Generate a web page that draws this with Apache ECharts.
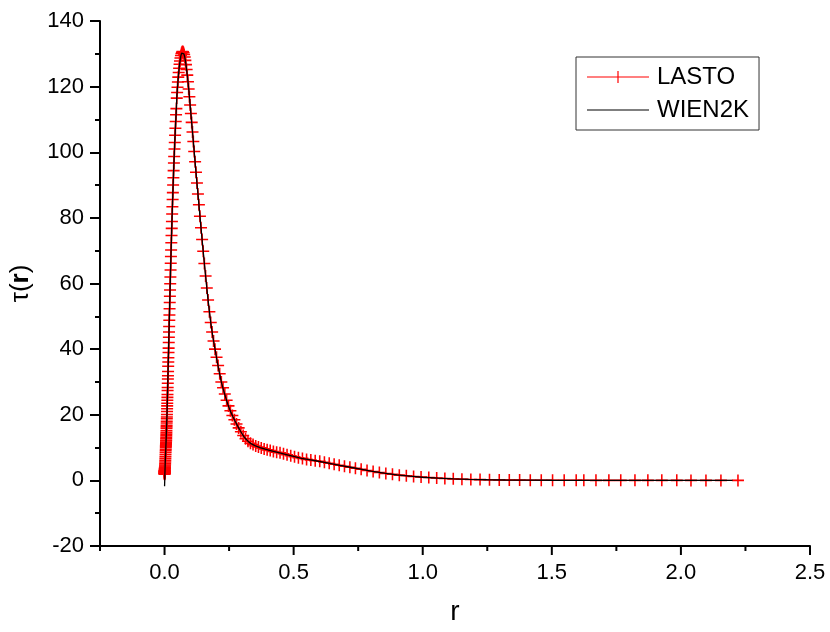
<!DOCTYPE html>
<html>
<head>
<meta charset="utf-8">
<script src="https://cdn.jsdelivr.net/npm/echarts@6/dist/echarts.min.js"></script>
<style>
  html, body {margin: 0; padding: 0; background: #fff;}
  #main {width: 830px; height: 632px;}
</style>
</head>
<body>
<div id="main"></div>
<script>
// LASTO radial mesh and tau(r) values
const lastoR = [
  0.00002, 0.00004, 0.00006, 0.00008, 0.0001, 0.00013, 0.00016, 0.0002, 0.00025, 0.0003, 0.0004, 0.0005,
  0.0006, 0.0008, 0.0010, 0.0012, 0.0014, 0.0016, 0.0018, 0.0020, 0.0023, 0.0026, 0.0029, 0.0032,
  0.0035, 0.0038, 0.0041, 0.0044, 0.0047,
  0.0050, 0.0052, 0.0053, 0.0055, 0.0056, 0.0058, 0.0060, 0.0061, 0.0063, 0.0065, 0.0067, 0.0069,
  0.0071, 0.0073, 0.0076, 0.0078, 0.0080, 0.0083, 0.0085, 0.0088, 0.0090, 0.0093, 0.0096, 0.0099,
  0.0102, 0.0105, 0.0108, 0.0111, 0.0114, 0.0118, 0.0121, 0.0125, 0.0129, 0.0132, 0.0136, 0.0141,
  0.0145, 0.0149, 0.0154, 0.0158, 0.0163, 0.0168, 0.0173, 0.0178, 0.0184, 0.0189, 0.0195, 0.0201,
  0.0207, 0.0213, 0.0219, 0.0226, 0.0233, 0.0240, 0.0247, 0.0254, 0.0262, 0.0270, 0.0278, 0.0286,
  0.0295, 0.0304, 0.0313, 0.0322, 0.0332, 0.0342, 0.0352, 0.0363, 0.0373, 0.0385, 0.0396, 0.0408,
  0.0420, 0.0433, 0.0446, 0.0459, 0.0473, 0.0487, 0.0502, 0.0517, 0.0532, 0.0548, 0.0565, 0.0582,
  0.0599, 0.0617, 0.0636, 0.0655, 0.0675, 0.0695, 0.0716, 0.0737, 0.0759, 0.0782, 0.0806, 0.0830,
  0.0855, 0.0880, 0.0907, 0.0934, 0.0962, 0.0991, 0.1020, 0.1051, 0.1083, 0.1115, 0.1149, 0.1183,
  0.1218, 0.1255, 0.1293, 0.1331, 0.1371, 0.1412, 0.1455, 0.1498, 0.1543, 0.1590, 0.1637, 0.1686,
  0.1737, 0.1789, 0.1843, 0.1898, 0.1955, 0.2014, 0.2074, 0.2136, 0.2200, 0.2266, 0.2334, 0.2404,
  0.2477, 0.2551, 0.2627, 0.2706, 0.2787, 0.2871, 0.2957, 0.3046, 0.3137, 0.3231, 0.3328, 0.3428,
  0.3531, 0.3637, 0.3746, 0.3858, 0.3974, 0.4093, 0.4216, 0.4342, 0.4473, 0.4607, 0.4745, 0.4888,
  0.5034, 0.5185, 0.5341, 0.5501, 0.5666, 0.5836, 0.6011, 0.6192, 0.6378, 0.6569, 0.6766, 0.6969,
  0.7178, 0.7393, 0.7615, 0.7843, 0.8079, 0.8321, 0.8571, 0.8828, 0.9093, 0.9365, 0.9646, 0.9936,
  1.0234, 1.0541, 1.0857, 1.1183, 1.1518, 1.1864, 1.2220, 1.2586, 1.2964, 1.3353, 1.3753, 1.4166,
  1.4591, 1.5029, 1.5479, 1.5944, 1.6240, 1.6710, 1.7210, 1.7670, 1.8220, 1.8720, 1.9260, 1.9840,
  2.0390, 2.0970, 2.1550, 2.2210
];
const lastoTau = [
  1.9, 2.0, 2.1, 2.2, 2.3, 2.4, 2.5, 2.6, 2.7, 2.8, 2.9, 3.0,
  3.1, 3.3, 3.5, 3.7, 3.9, 4.1, 4.4, 4.7, 5.1, 5.6, 6.1, 6.7,
  7.3, 7.9, 8.5, 9.0, 9.5,
  10.0, 10.4, 10.6, 11.0, 11.2, 11.6, 12.0, 12.2, 12.7, 13.1, 13.6, 14.1,
  14.6, 15.1, 15.8, 16.3, 16.8, 17.5, 18.0, 18.8, 19.3, 20.1, 21.0, 21.8,
  22.7, 23.5, 24.4, 25.3, 26.2, 27.4, 28.3, 29.6, 30.9, 31.9, 33.2, 34.8,
  36.1, 37.4, 39.0, 40.3, 42.0, 43.6, 45.2, 46.9, 48.8, 50.4, 52.3, 54.2,
  56.1, 58.0, 59.9, 62.0, 64.1, 66.2, 68.2, 70.2, 72.4, 74.6, 76.8, 78.9,
  81.2, 83.4, 85.6, 87.7, 90.0, 92.2, 94.4, 96.7, 98.7, 101.0, 103.0, 105.2,
  107.3, 109.4, 111.4, 113.3, 116.5, 118.2, 119.8, 121.4, 122.9, 124.3, 125.6, 126.8,
  127.8, 128.7, 129.5, 130.1, 130.5, 130.7, 130.6, 130.3, 129.8, 129.0, 128.0, 126.7,
  125.2, 123.5, 121.5, 119.3, 116.9, 114.4, 111.8, 109.1, 106.2, 103.3, 100.2, 97.1,
  93.9, 90.6, 87.3, 84.0, 80.5, 77.0, 73.4, 69.8, 66.1, 62.3, 58.6, 55.0,
  51.4, 48.1, 45.2, 42.5, 40.0, 37.5, 35.0, 32.5, 30.0, 28.2, 26.3, 24.4,
  22.7, 21.2, 19.8, 18.5, 17.2, 16.0, 14.8, 13.7, 12.7, 11.9, 11.3, 10.9,
  10.5, 10.2, 9.9, 9.6, 9.3, 9.1, 8.8, 8.6, 8.4, 8.1, 7.8, 7.5,
  7.2, 6.9, 6.7, 6.4, 6.2, 6.0, 5.8, 5.5, 5.2, 4.9, 4.6, 4.3,
  4.0, 3.7, 3.4, 3.0, 2.7, 2.4, 2.1, 1.85, 1.6, 1.4, 1.2, 1.0,
  0.85, 0.7, 0.57, 0.46, 0.37, 0.29, 0.23, 0.18, 0.14, 0.11, 0.08, 0.06,
  0.045, 0.033, 0.024, 0.017, 0.013, 0.009, 0.006, 0.004, 0.003, 0.002, 0.001, 0.001,
  0, 0, 0, 0
];
// WIEN2K curve
const wienR = [
  0.0001, 0.0006, 0.0012, 0.002, 0.003, 0.004, 0.005, 0.0065, 0.008, 0.010, 0.012, 0.014,
  0.016, 0.018, 0.020, 0.022, 0.024, 0.026, 0.028, 0.030, 0.033, 0.036, 0.039, 0.042,
  0.045, 0.048, 0.051, 0.054, 0.057, 0.060, 0.063, 0.066, 0.069, 0.072, 0.075, 0.078,
  0.081, 0.084, 0.087, 0.090, 0.094, 0.098, 0.102, 0.106, 0.110, 0.115, 0.120, 0.125,
  0.130, 0.135, 0.140, 0.145, 0.150, 0.155, 0.160, 0.165, 0.170, 0.175, 0.180, 0.186,
  0.192, 0.198, 0.205, 0.212, 0.220, 0.228, 0.236, 0.245, 0.255, 0.265, 0.275, 0.285,
  0.295, 0.305, 0.315, 0.325, 0.335, 0.350, 0.370, 0.390, 0.410, 0.430, 0.450, 0.475,
  0.500, 0.530, 0.560, 0.590, 0.620, 0.650, 0.680, 0.720, 0.760, 0.800, 0.850, 0.900,
  0.950, 1.000, 1.060, 1.120, 1.180, 1.250, 1.320, 1.400, 1.500, 1.600, 1.700, 1.850,
  2.000, 2.200
];
const wienTau = [
  -1.8, -0.3, 1.5, 3.6, 6.0, 8.0, 10.0, 13.1, 16.8, 21.3, 28.0, 34.5,
  41.2, 47.5, 53.9, 60.0, 66.2, 71.8, 77.3, 82.4, 89.5, 96.0, 102.0, 107.3,
  112.0, 117.4, 120.6, 123.6, 126.0, 127.8, 129.3, 130.2, 130.7, 130.6, 130.0, 129.1,
  127.8, 126.1, 124.1, 122.1, 119.1, 115.3, 111.8, 108.2, 104.7, 100.1, 95.5, 91.0,
  86.8, 82.4, 78.0, 73.8, 69.6, 65.5, 61.6, 57.6, 54.0, 50.6, 47.5, 44.3,
  41.5, 38.9, 35.8, 33.0, 30.0, 27.6, 25.5, 23.2, 21.1, 19.4, 17.8, 16.3,
  14.9, 13.6, 12.6, 11.8, 11.2, 10.6, 10.0, 9.5, 9.1, 8.7, 8.3, 7.8,
  7.3, 6.7, 6.3, 5.9, 5.5, 5.0, 4.55, 4.0, 3.4, 2.8, 2.2, 1.7,
  1.3, 0.95, 0.67, 0.46, 0.31, 0.19, 0.12, 0.07, 0.035, 0.016, 0.007, 0.002,
  0, 0
];
const xMajorTicks = [0, 0.5, 1.0, 1.5, 2.0, 2.5];
const xMinorTicks = [-0.25, 0.25, 0.75, 1.25, 1.75, 2.25];
const seriesNames = ['LASTO', 'WIEN2K'];

const font = 'Liberation Sans';
const cross = 'path://M0,0.435H1V0.565H0Z M0.435,0H0.565V1H0.435Z';
const tickStyle = {color: '#000', width: 2};
const yMin = -20;

// x ticks drawn below the axis line through the axis scale
function tickSeries(values, len) {
  return {
    type: 'custom', silent: true, clip: false, z: 5,
    data: values.map(v => [v, yMin]),
    encode: {x: 0, y: 1},
    renderItem: (params, api) => {
      const p = api.coord([api.value(0), api.value(1)]);
      return {
        type: 'line',
        shape: {x1: p[0], y1: p[1], x2: p[0], y2: p[1] + len},
        style: {stroke: '#000', lineWidth: 2}
      };
    }
  };
}

const chart = echarts.init(document.getElementById('main'));
chart.setOption({
  animation: false,
  backgroundColor: '#fff',
  grid: {left: 100, right: 20, top: 21, bottom: 86},
  legend: {
    left: 576, top: 57,
    orient: 'vertical',
    padding: [7, 10, 7, 11],
    itemWidth: 62, itemHeight: 14, itemGap: 7,
    borderColor: '#333', borderWidth: 1,
    textStyle: {fontFamily: font, fontSize: 24, color: '#000', lineHeight: 26, padding: [0, 0, 0, 3]},
    data: [
      {name: seriesNames[0], icon: 'path://M0,6.4H62V7.6H0Z M30.4,1H31.6V13H30.4Z'},
      {name: seriesNames[1], icon: 'path://M0,0H62V1.2H0Z'}
    ]
  },
  xAxis: {
    type: 'value', min: -0.25, max: 2.5,
    name: 'r', nameLocation: 'middle', nameGap: 52,
    nameTextStyle: {fontFamily: font, fontSize: 28, color: '#000'},
    axisLine: {onZero: false, lineStyle: {color: '#000', width: 2}},
    axisTick: {show: false},
    axisLabel: {customValues: xMajorTicks, margin: 16, fontFamily: font, fontSize: 22, color: '#000',
      formatter: v => v.toFixed(1)},
    splitLine: {show: false}
  },
  yAxis: {
    type: 'value', min: yMin, max: 140, interval: 20,
    name: '{t|τ}{p|(}{b|r}{p|)}', nameLocation: 'middle', nameGap: 66,
    nameTextStyle: {
      rich: {
        t: {fontFamily: font, fontSize: 26, color: '#000'},
        p: {fontFamily: font, fontSize: 26, color: '#000'},
        b: {fontFamily: font, fontSize: 26, color: '#000', fontWeight: 'bold'}
      }
    },
    axisLine: {onZero: false, lineStyle: {color: '#000', width: 2}},
    axisTick: {length: 10, lineStyle: tickStyle},
    minorTick: {show: true, splitNumber: 2, length: 5, lineStyle: tickStyle},
    axisLabel: {margin: 16, fontFamily: font, fontSize: 22, color: '#000'},
    splitLine: {show: false}
  },
  series: [{
    name: seriesNames[0], type: 'line',
    data: lastoR.map((r, i) => [r, lastoTau[i]]),
    symbol: cross, symbolSize: 12,
    itemStyle: {color: '#ff0000'},
    lineStyle: {color: '#ff0000', width: 1},
    z: 2
  }, {
    name: seriesNames[1], type: 'line',
    data: wienR.map((r, i) => [r, wienTau[i]]),
    showSymbol: false, symbol: 'none',
    itemStyle: {color: '#000'},
    lineStyle: {color: '#000', width: 1.3},
    z: 3
  },
  tickSeries(xMajorTicks, 9),
  tickSeries(xMinorTicks, 5)]
});
</script>
</body>
</html>
